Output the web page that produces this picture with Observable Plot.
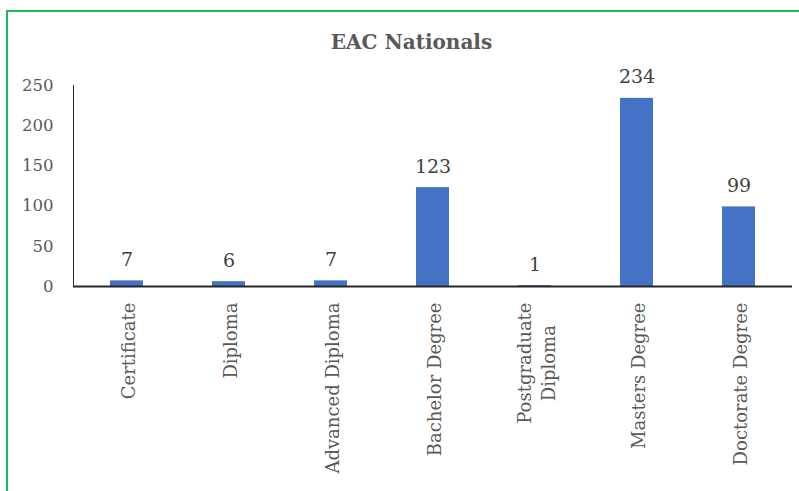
<!DOCTYPE html>
<html>
<head>
<meta charset="utf-8">
<script src="https://cdn.jsdelivr.net/npm/d3@7"></script>
<script src="https://cdn.jsdelivr.net/npm/@observablehq/plot@0.6"></script>
<style>
  html, body { margin: 0; padding: 0; background: #fff; overflow: hidden; }
  #wrap { position: relative; width: 799px; height: 491px; }
  #border { position: absolute; left: 6px; top: 10px; width: 820px; height: 520px;
            border-left: 2px solid #1DB954; border-top: 2px solid #1DB954; box-sizing: border-box; }
  #title { position: absolute; left: 0; width: 823px; top: 30px; text-align: center;
           font-family: "DejaVu Serif", serif; font-weight: bold; font-size: 20px; color: #595959; }
  #chart { position: absolute; left: 0; top: 0; }
</style>
</head>
<body>
<div id="wrap">
  <div id="chart"></div>
  <div id="border"></div>
  <div id="title">EAC Nationals</div>
</div>
<script>
const categories = ["Certificate", "Diploma", "Advanced Diploma", "Bachelor Degree", "Postgraduate\nDiploma", "Masters Degree", "Doctorate Degree"];
const values = [7, 6, 7, 123, 1, 234, 99];
const yTicks = [0, 50, 100, 150, 200, 250];

const data = categories.map((c, i) => ({category: c, value: values[i]}));

const chart = Plot.plot({
  width: 799,
  height: 491,
  marginLeft: 73,
  marginRight: 7,
  marginTop: 85,
  marginBottom: 205,
  style: {fontFamily: "DejaVu Serif, serif", background: "transparent"},
  x: {domain: categories, paddingInner: 0.68, paddingOuter: 0.34, label: null},
  y: {domain: [0, 250], label: null},
  marks: [
    Plot.barY(data, {x: "category", y: "value", fill: "#4472C4"}),
    Plot.frame({anchor: "left", stroke: "#262626", strokeWidth: 1}),
    Plot.ruleY([0], {stroke: "#262626", strokeWidth: 2}),
    Plot.text(data, {x: "category", y: "value", text: d => String(d.value), dy: -21,
      fill: "#404040", fontSize: 19}),
    Plot.axisY({ticks: yTicks, tickSize: 0, tickPadding: 20, fontSize: 16.5, fill: "#595959", label: null}),
    Plot.axisX({tickSize: 0, tickPadding: 16, tickRotate: -90, fontSize: 18, fill: "#595959",
      lineHeight: 1.35, label: null})
  ]
});
document.getElementById("chart").appendChild(chart);

// center multi-line rotated labels on each other (Excel style)
chart.querySelectorAll("g[aria-label='x-axis tick label'] text").forEach(t => {
  const spans = t.querySelectorAll("tspan");
  if (spans.length > 1) {
    let maxW = 0;
    spans.forEach(s => { maxW = Math.max(maxW, s.getComputedTextLength()); });
    spans.forEach(s => { s.setAttribute("text-anchor", "middle"); s.setAttribute("x", -maxW / 2); });
    t.setAttribute("text-anchor", "middle");
  }
});
</script>
</body>
</html>
